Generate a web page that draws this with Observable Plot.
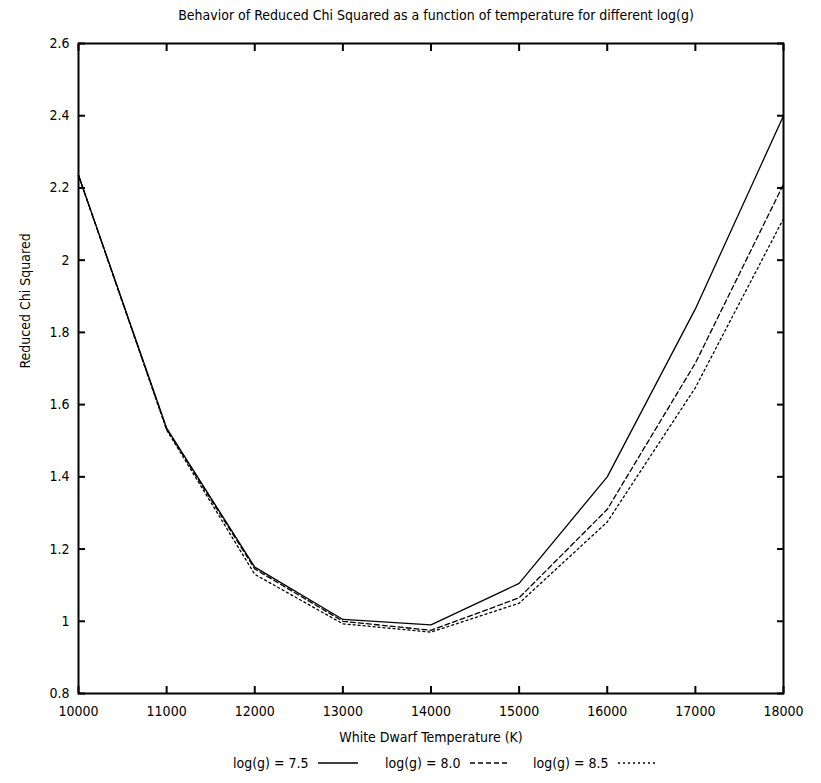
<!DOCTYPE html>
<html>
<head>
<meta charset="utf-8">
<script src="https://cdn.jsdelivr.net/npm/d3@7"></script>
<script src="https://cdn.jsdelivr.net/npm/@observablehq/plot@0.6"></script>
<style>
  html, body { margin: 0; padding: 0; background: #fff; }
  #wrap { position: relative; width: 821px; height: 783px; overflow: hidden;
          font-family: "Liberation Sans Narrow", "DejaVu Sans Condensed", "Liberation Sans", sans-serif; color: #000; }
  #title { position: absolute; top: 0; left: 0; width: 821px; height: 30px; line-height: 30px;
           box-sizing: border-box; padding-left: 51px; text-align: center; font-size: 14px; }
  #chart { position: absolute; top: 30px; left: 0; }
  .leg { position: absolute; top: 753px; height: 20px; line-height: 20px; font-size: 14px; display: flex; align-items: center; white-space: nowrap; }
  .leg svg { margin-left: 8px; }
</style>
</head>
<body>
<div id="wrap">
  <div id="title"></div>
  <div id="chart"></div>
</div>
<script>
const titleText = "Behavior of Reduced Chi Squared as a function of temperature for different log(g)";
const xLabel = "White Dwarf Temperature (K)";
const yLabel = "Reduced Chi Squared";

const temps = [10000, 11000, 12000, 13000, 14000, 15000, 16000, 17000, 18000];
const logg75 = [2.235, 1.535, 1.150, 1.005, 0.990, 1.105, 1.400, 1.865, 2.400];
const logg80 = [2.235, 1.532, 1.145, 1.000, 0.975, 1.065, 1.310, 1.715, 2.210];
const logg85 = [2.235, 1.530, 1.130, 0.993, 0.970, 1.050, 1.275, 1.647, 2.115];

const seriesNames = ["log(g) = 7.5", "log(g) = 8.0", "log(g) = 8.5"];
const seriesValues = [logg75, logg80, logg85];
const seriesDash = [null, "5,3", "2,3"];

const xTicks = [10000, 11000, 12000, 13000, 14000, 15000, 16000, 17000, 18000];
const yTicks = [0.8, 1, 1.2, 1.4, 1.6, 1.8, 2, 2.2, 2.4, 2.6];

document.getElementById("title").textContent = titleText;

const rows = [];
seriesNames.forEach((name, s) => {
  temps.forEach((t, i) => rows.push({series: name, t, v: seriesValues[s][i]}));
});

const fmt = d => String(d);
const font = '"Liberation Sans Narrow", "DejaVu Sans Condensed", "Liberation Sans", sans-serif';

const chart = Plot.plot({
  width: 821,
  height: 725,
  marginLeft: 78,
  marginRight: 38,
  marginTop: 13,
  marginBottom: 62,
  style: {fontFamily: font, fontSize: "14px", color: "#000", background: "#fff"},
  x: {domain: [10000, 18000]},
  y: {domain: [0.8, 2.6]},
  marks: [
    Plot.axisX({ticks: xTicks, anchor: "bottom", tickSize: -7, strokeWidth: 2, tickFormat: () => "", label: null}),
    Plot.axisX({ticks: xTicks, anchor: "top", tickSize: -7, strokeWidth: 2, tickFormat: () => "", label: null}),
    Plot.axisY({ticks: yTicks, anchor: "left", tickSize: -7, strokeWidth: 2, tickFormat: () => "", label: null}),
    Plot.axisY({ticks: yTicks, anchor: "right", tickSize: -7, strokeWidth: 2, tickFormat: () => "", label: null}),
    Plot.axisX({ticks: xTicks, anchor: "bottom", tickSize: 0, tickPadding: 13, tickFormat: fmt, label: null, fontSize: 14}),
    Plot.axisY({ticks: yTicks, anchor: "left", tickSize: 0, tickPadding: 9, tickFormat: fmt, label: null, fontSize: 14}),
    ...seriesNames.map((name, s) =>
      Plot.line(rows.filter(r => r.series === name), {
        x: "t", y: "v", stroke: "#000", strokeWidth: 1.3,
        strokeDasharray: seriesDash[s]
      })
    ),
    Plot.frame({stroke: "#000", strokeWidth: 2}),
    Plot.text([xLabel], {text: d => d, frameAnchor: "bottom", dy: 48, fontSize: 14}),
    Plot.text([yLabel], {text: d => d, frameAnchor: "left", dx: -53, rotate: -90, fontSize: 14})
  ]
});
document.getElementById("chart").appendChild(chart);

// legend
const legLeft = [233, 385, 533];
const wrap = document.getElementById("wrap");
seriesNames.forEach((name, s) => {
  const div = document.createElement("div");
  div.className = "leg";
  div.style.left = legLeft[s] + "px";
  const span = document.createElement("span");
  span.textContent = name;
  div.appendChild(span);
  const svg = d3.create("svg").attr("width", 42).attr("height", 10);
  svg.append("line").attr("x1", 1).attr("x2", 41).attr("y1", 5).attr("y2", 5)
    .attr("stroke", "#000").attr("stroke-width", 1.3)
    .attr("stroke-dasharray", seriesDash[s]);
  div.appendChild(svg.node());
  wrap.appendChild(div);
});
</script>
</body>
</html>
